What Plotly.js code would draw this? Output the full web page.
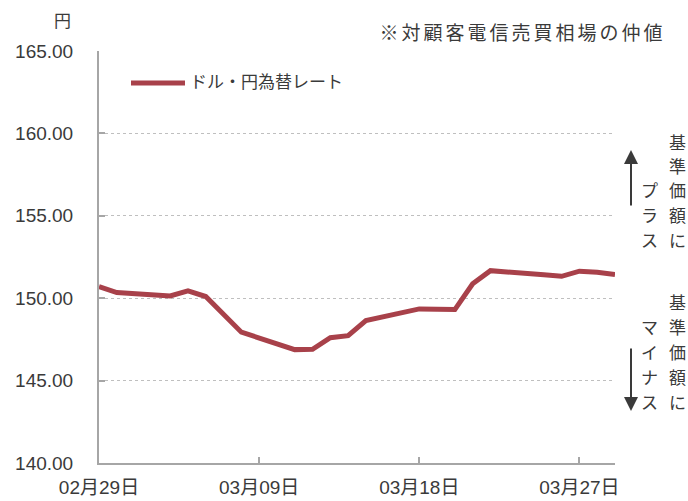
<!DOCTYPE html>
<html>
<head>
<meta charset="utf-8">
<script src="https://cdn.plot.ly/plotly-3.0.1.min.js"></script>
<style>
html,body{margin:0;padding:0;background:#fff;}
#chart{width:688px;height:501px;}
</style>
</head>
<body>
<div id="chart"></div>
<script>
// ---- data ----
const dates = [
  '2024-02-29','2024-03-01','2024-03-04','2024-03-05','2024-03-06','2024-03-07','2024-03-08',
  '2024-03-11','2024-03-12','2024-03-13','2024-03-14','2024-03-15',
  '2024-03-18','2024-03-19','2024-03-20','2024-03-21','2024-03-22',
  '2024-03-25','2024-03-26','2024-03-27','2024-03-28','2024-03-29'
];
const rates = [
  150.70,150.34,150.14,150.44,150.10,149.05,147.94,
  146.88,146.90,147.60,147.73,148.64,
  149.35,149.33,149.31,150.87,151.67,
  151.42,151.33,151.64,151.58,151.43
];
const seriesName = 'ドル・円為替レート';
const tickDates = ['2024-02-29','2024-03-09','2024-03-18','2024-03-27'];
const tickLabels = ['02月29日','03月09日','03月18日','03月27日'];
const yTicks = [140,145,150,155,160,165];
const unitLabel = '円';
const noteText = '※対顧客電信売買相場の仲値';
const plusCol1 = ['基','準','価','額','に'];
const plusCol2 = ['プ','ラ','ス'];
const minusCol1 = ['基','準','価','額','に'];
const minusCol2 = ['マ','イ','ナ','ス'];

// ---- layout helpers ----
const W = 688, H = 501;
const M = {l:99, r:73, t:51, b:38};
const PW = W - M.l - M.r, PH = H - M.t - M.b;
const px = x => (x - M.l) / PW;
const py = y => (H - M.b - y) / PH;
const FONT = 'Liberation Sans, Arial, Noto Sans CJK JP, sans-serif';
const TXT = '#3a3a3a';
const RED = '#A8414A';

const trace = {
  type:'scatter', mode:'lines', x:dates, y:rates, name:seriesName,
  line:{color:RED, width:5}, hoverinfo:'skip'
};

const annotations = [];
function vcol(chars, x, y0, step){
  chars.forEach((c,i)=>{
    annotations.push({xref:'paper',yref:'paper',x:px(x),y:py(y0+i*step),text:c,showarrow:false,
      xanchor:'center',yanchor:'middle',font:{family:FONT,size:17,color:TXT}});
  });
}
vcol(plusCol1, 677, 143, 24.5);
vcol(plusCol2, 649, 192, 24.5);
vcol(minusCol1, 677, 303, 25);
vcol(minusCol2, 649, 328, 25);

annotations.push({xref:'paper',yref:'paper',x:px(631),y:py(150),ax:0,ay:57,text:'',showarrow:true,
  arrowhead:2,arrowsize:1.4,arrowwidth:2,arrowcolor:TXT});
annotations.push({xref:'paper',yref:'paper',x:px(631),y:py(411),ax:0,ay:-64,text:'',showarrow:true,
  arrowhead:2,arrowsize:1.4,arrowwidth:2,arrowcolor:TXT});

annotations.push({xref:'paper',yref:'paper',x:px(62),y:py(21),text:unitLabel,showarrow:false,
  xanchor:'center',yanchor:'middle',font:{family:FONT,size:17,color:TXT}});
annotations.push({xref:'paper',yref:'paper',x:px(522),y:py(33),text:noteText,showarrow:false,
  xanchor:'center',yanchor:'middle',font:{family:FONT,size:19,color:TXT}});
annotations.push({xref:'paper',yref:'paper',x:px(188),y:py(83),text:seriesName,showarrow:false,
  xanchor:'left',yanchor:'middle',font:{family:FONT,size:17,color:TXT}});

const layout = {
  width:W, height:H, margin:M, paper_bgcolor:'#fff', plot_bgcolor:'#fff',
  showlegend:false,
  font:{family:FONT,color:TXT,size:19},
  xaxis:{type:'date', range:['2024-02-29','2024-03-29'], tickmode:'array', tickvals:tickDates,
    ticktext:tickLabels, showgrid:false, showline:true, linecolor:'#a6a6a6', linewidth:2,
    ticks:'inside', ticklen:6, tickwidth:2, tickcolor:'#a6a6a6', zeroline:false,
    tickfont:{family:FONT,size:19,color:TXT}, ticklabelstandoff:6, fixedrange:true},
  yaxis:{range:[140,165], tickmode:'array', tickvals:yTicks, tickformat:'.2f',
    showgrid:true, gridcolor:'#bfbfbf', griddash:'dot', gridwidth:1,
    showline:true, linecolor:'#a6a6a6', linewidth:2, ticks:'inside', ticklen:6, tickwidth:2,
    tickcolor:'#a6a6a6', zeroline:false, tickfont:{family:FONT,size:19,color:TXT},
    ticklabelstandoff:20, fixedrange:true},
  shapes:[{type:'line',xref:'paper',yref:'paper',x0:px(131),x1:px(185),y0:py(83),y1:py(83),
    line:{color:RED,width:5}}],
  annotations:annotations
};

Plotly.newPlot('chart',[trace],layout,{staticPlot:true,displayModeBar:false}).then(()=>{
  document.querySelectorAll('.annotation-text').forEach(t=>{
    if (t.textContent === noteText) t.style.letterSpacing = '3px';
  });
});
</script>
</body>
</html>
